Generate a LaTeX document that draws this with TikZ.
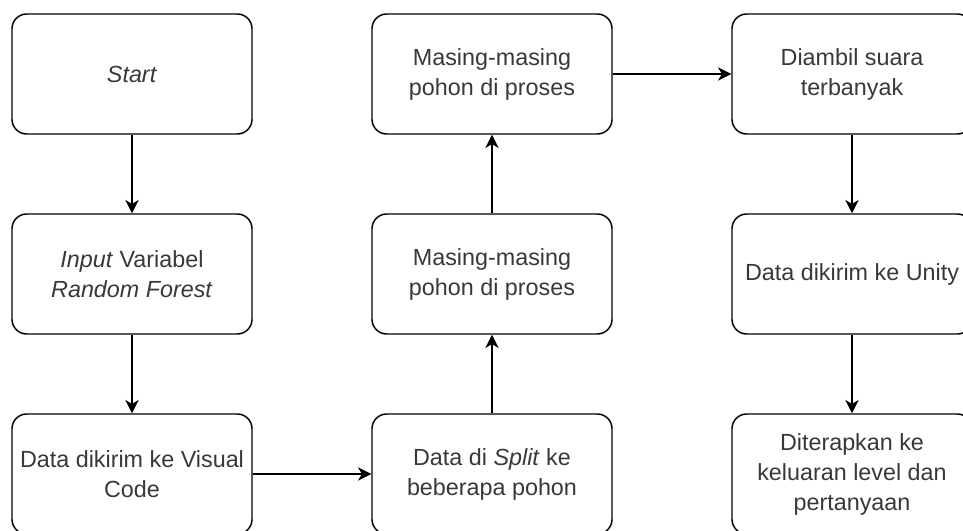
\documentclass[tikz,border=0pt]{standalone}
\usepackage{fontspec}
\setmainfont{Liberation Sans}
\usetikzlibrary{arrows.meta}
\tikzset{
  langkah/.style={draw, line width=1.1pt, rounded corners=11pt,
    minimum width=180pt, minimum height=90pt, inner sep=0pt,
    align=center, text=black!78,
    font=\fontsize{17.5}{22.5}\selectfont},
  panah/.style={-{Stealth[length=10pt,width=10pt,inset=3pt]}, line width=1.1pt}
}
\begin{document}
\begin{tikzpicture}[x=0.75pt, y=-0.75pt]
    \clip (0,0) rectangle (963,531);
    \node [langkah] (start) at (132,74) {\textit{Start}};
    \node [langkah] (input) at (132,274) {\textit{Input} Variabel\\ \textit{Random Forest}};
    \node [langkah] (kirim) at (132,474) {Data dikirim ke Visual\\ Code};
    \node [langkah] (split) at (492,474) {Data di \textit{Split} ke\\ beberapa pohon};
    \node [langkah] (proses1) at (492,274) {Masing-masing\\ pohon di proses};
    \node [langkah] (proses2) at (492,74) {Masing-masing\\ pohon di proses};
    \node [langkah] (suara) at (852,74) {Diambil suara\\ terbanyak};
    \node [langkah] (unity) at (852,274) {Data dikirim ke Unity};
    \node [langkah] (terap) at (852,474) {Diterapkan ke\\ keluaran level dan\\ pertanyaan};
    \draw [panah] (start) to (input);
    \draw [panah] (input) to (kirim);
    \draw [panah] (kirim) to (split);
    \draw [panah] (split) to (proses1);
    \draw [panah] (proses1) to (proses2);
    \draw [panah] (proses2) to (suara);
    \draw [panah] (suara) to (unity);
    \draw [panah] (unity) to (terap);
\end{tikzpicture}
\end{document}
